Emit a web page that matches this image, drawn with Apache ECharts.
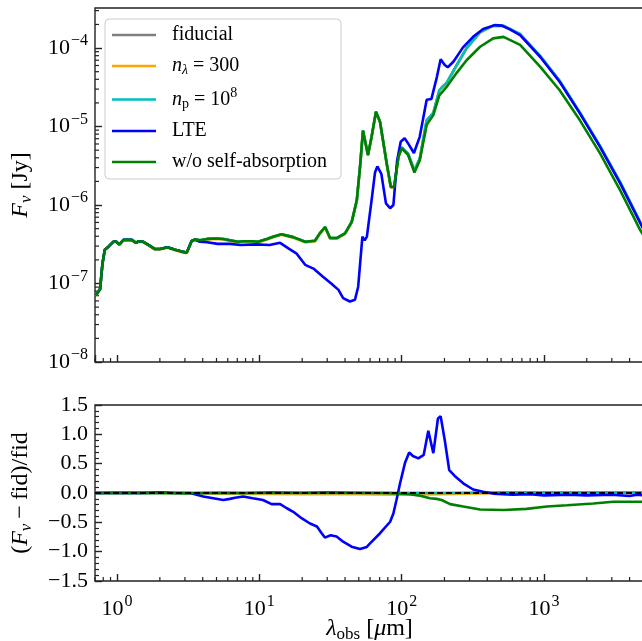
<!DOCTYPE html>
<html><head><meta charset="utf-8">
<script src="https://cdn.jsdelivr.net/npm/echarts@6/dist/echarts.min.js"></script>
<style>html,body{margin:0;padding:0;background:#fff}#c{width:642px;height:641px}</style>
</head><body><div id="c"></div><script>
// ---------- data ----------
const LAM_TOP=[0.71,0.76,0.79,0.82,0.87,0.94,0.98,1.04,1.11,1.27,1.36,1.41,1.53,1.66,1.85,2.0,2.26,2.56,2.85,3.09,3.35,3.53,3.83,4.3,5.0,5.6,6.2,7.1,7.7,9.0,9.8,11.3,12.5,14.3,17.3,21,24.6,26.6,29,31.4,35,40,44.6,48.4,51,53.5,58,61.5,66,70.5,78.5,84,88.6,95,100,111,123,134,150,167,184,196,207,243,286,356,440,520,610,680,940,1290,1790,2480,3430,4750,5100];
const NOSA=[7.1e-8,8.5e-8,1.8e-7,2.7e-7,2.95e-7,3.4e-7,3.45e-7,3.15e-7,3.6e-7,3.6e-7,3.3e-7,3.45e-7,3.4e-7,3.1e-7,2.75e-7,2.75e-7,2.9e-7,2.7e-7,2.55e-7,2.48e-7,3.5e-7,3.65e-7,3.55e-7,3.7e-7,3.75e-7,3.7e-7,3.55e-7,3.4e-7,3.45e-7,3.45e-7,3.4e-7,3.7e-7,3.95e-7,4.25e-7,3.9e-7,3.4e-7,3.5e-7,4.35e-7,5.25e-7,3.8e-7,3.8e-7,4.35e-7,6.1e-7,1.15e-6,3.07e-6,8.9e-6,4.35e-6,7.4e-6,1.54e-5,1.15e-5,3.4e-6,1.7e-6,1.7e-6,4.1e-6,5.3e-6,4.35e-6,2.6e-6,3.7e-6,1.05e-5,1.4e-5,2.5e-5,2.85e-5,3.2e-5,4.8e-5,7.0e-5,1.04e-4,1.33e-4,1.39e-4,1.21e-4,1.1e-4,5.8e-5,2.9e-5,1.2e-5,4.55e-6,1.55e-6,4.8e-7,3.9e-7];
const FID=[7.1e-8,8.5e-8,1.8e-7,2.7e-7,2.95e-7,3.4e-7,3.45e-7,3.15e-7,3.6e-7,3.6e-7,3.3e-7,3.45e-7,3.4e-7,3.1e-7,2.75e-7,2.75e-7,2.9e-7,2.7e-7,2.55e-7,2.48e-7,3.5e-7,3.65e-7,3.55e-7,3.7e-7,3.75e-7,3.7e-7,3.55e-7,3.4e-7,3.45e-7,3.45e-7,3.4e-7,3.7e-7,3.95e-7,4.25e-7,3.9e-7,3.4e-7,3.5e-7,4.35e-7,5.25e-7,3.8e-7,3.8e-7,4.35e-7,6.1e-7,1.15e-6,3.07e-6,8.9e-6,4.35e-6,7.4e-6,1.54e-5,1.15e-5,3.4e-6,1.7e-6,1.72e-6,4.2e-6,5.4e-6,4.5e-6,2.75e-6,3.9e-6,1.2e-5,1.5e-5,2.9e-5,3.3e-5,3.6e-5,6.0e-5,1.0e-4,1.6e-4,1.93e-4,1.92e-4,1.66e-4,1.5e-4,7.9e-5,3.8e-5,1.5e-5,5.6e-6,1.95e-6,6.0e-7,4.7e-7];
const N300=[7.0e-8,8.4e-8,1.78e-7,2.67e-7,2.92e-7,3.37e-7,3.42e-7,3.12e-7,3.56e-7,3.56e-7,3.26e-7,3.41e-7,3.36e-7,3.06e-7,2.71e-7,2.71e-7,2.86e-7,2.66e-7,2.51e-7,2.44e-7,3.45e-7,3.6e-7,3.5e-7,3.65e-7,3.7e-7,3.64e-7,3.49e-7,3.34e-7,3.39e-7,3.39e-7,3.34e-7,3.63e-7,3.88e-7,4.17e-7,3.83e-7,3.34e-7,3.43e-7,4.27e-7,5.15e-7,3.73e-7,3.73e-7,4.27e-7,5.99e-7,1.13e-6,3.01e-6,8.7e-6,4.27e-6,7.25e-6,1.51e-5,1.13e-5,3.33e-6,1.67e-6,1.68e-6,4.1e-6,5.25e-6,4.4e-6,2.68e-6,3.8e-6,1.17e-5,1.47e-5,2.84e-5,3.24e-5,3.53e-5,5.9e-5,9.85e-5,1.58e-4,1.92e-4,1.92e-4,1.66e-4,1.5e-4,7.9e-5,3.8e-5,1.5e-5,5.6e-6,1.95e-6,6.0e-7,4.7e-7];
const NP=[7.1e-8,8.5e-8,1.8e-7,2.7e-7,2.95e-7,3.4e-7,3.45e-7,3.15e-7,3.6e-7,3.6e-7,3.3e-7,3.45e-7,3.4e-7,3.1e-7,2.75e-7,2.75e-7,2.9e-7,2.7e-7,2.55e-7,2.48e-7,3.5e-7,3.65e-7,3.55e-7,3.7e-7,3.75e-7,3.7e-7,3.55e-7,3.4e-7,3.45e-7,3.45e-7,3.4e-7,3.7e-7,3.95e-7,4.25e-7,3.9e-7,3.4e-7,3.5e-7,4.35e-7,5.25e-7,3.8e-7,3.8e-7,4.35e-7,6.1e-7,1.15e-6,3.07e-6,8.9e-6,4.35e-6,7.4e-6,1.54e-5,1.15e-5,3.4e-6,1.7e-6,1.72e-6,4.2e-6,5.4e-6,4.5e-6,2.75e-6,3.9e-6,1.2e-5,1.5e-5,2.9e-5,3.3e-5,3.6e-5,6.0e-5,1.0e-4,1.6e-4,1.93e-4,1.93e-4,1.67e-4,1.51e-4,7.95e-5,3.82e-5,1.51e-5,5.65e-6,1.97e-6,6.05e-7,4.75e-7];
const LAM_LTE=[0.71,0.76,0.79,0.82,0.87,0.94,0.98,1.04,1.11,1.27,1.36,1.41,1.53,1.66,1.85,2.0,2.26,2.56,2.85,3.09,3.35,3.53,3.83,4.3,5.1,6.2,7.4,9.5,11.8,14,16,18.3,21,24,28,32,36,38.8,43.3,47,49.5,53,55,57,61.5,65,67.5,72,77.6,83,87.5,93,98.5,105,111,122,134,150,162,177,188,201,211,231,270,318,374,452,505,577,680,940,1290,1790,2480,3430,4750,5100];
const LTE=[7.1e-8,8.5e-8,1.8e-7,2.7e-7,2.95e-7,3.4e-7,3.45e-7,3.15e-7,3.6e-7,3.6e-7,3.3e-7,3.45e-7,3.4e-7,3.1e-7,2.75e-7,2.75e-7,2.9e-7,2.7e-7,2.55e-7,2.48e-7,3.5e-7,3.6e-7,3.4e-7,3.35e-7,3.2e-7,3.2e-7,3.1e-7,3.15e-7,3.1e-7,3.3e-7,2.8e-7,2.4e-7,1.73e-7,1.55e-7,1.22e-7,1.0e-7,8.3e-8,6.5e-8,5.9e-8,6.2e-8,9.1e-8,3.95e-7,3.55e-7,3.95e-7,1.15e-6,2.6e-6,3.1e-6,2.5e-6,1.05e-6,9.1e-7,1.0e-6,3.7e-6,6.4e-6,7.1e-6,6.1e-6,4.6e-6,7.4e-6,2.2e-5,2.25e-5,4.3e-5,7.2e-5,6.1e-5,5.7e-5,6.7e-5,1.02e-4,1.39e-4,1.75e-4,1.96e-4,1.93e-4,1.73e-4,1.46e-4,7.75e-5,3.73e-5,1.47e-5,5.5e-6,1.9e-6,5.9e-7,4.6e-7];
// relative difference panel
const LAM_R_LTE=[0.7,1.0,1.5,2.0,2.6,3.26,4.04,5.58,6.2,6.75,7.7,9.0,10.6,12.2,14,15.6,17.3,19.8,22.7,25.4,27.5,28.9,31.7,34.9,38.8,44.5,51,56.9,60,70.3,83,87.5,92,97.5,105.5,113,120,131,143,154,167,180,188,201,216,236,271,318,374,440,600,800,1000,1500,2000,3000,4000,4500,5100];
const R_LTE=[0,0.005,0,0.01,0,0,-0.06,-0.12,-0.10,-0.08,-0.06,-0.09,-0.12,-0.19,-0.19,-0.26,-0.32,-0.43,-0.52,-0.57,-0.69,-0.76,-0.72,-0.74,-0.83,-0.915,-0.955,-0.92,-0.86,-0.69,-0.49,-0.35,-0.12,0.165,0.51,0.69,0.63,0.59,0.65,1.06,0.68,1.27,1.31,0.90,0.39,0.29,0.165,0.06,0.02,-0.01,-0.03,-0.02,-0.04,-0.03,-0.04,-0.03,-0.05,-0.03,-0.04];
const LAM_R_NOSA=[0.7,1.5,3,5,8,12,20,30,50,80,100,114,130,142,158,176,191,219,271,356,520,755,1050,1450,2220,3070,4000,5100];
const R_NOSA=[0,0.005,-0.005,0.005,0,0.01,0.005,0.01,0.005,0,-0.01,-0.02,-0.04,-0.06,-0.09,-0.10,-0.12,-0.19,-0.23,-0.28,-0.29,-0.27,-0.23,-0.21,-0.18,-0.15,-0.15,-0.15];
const LAM_R_SMALL=[0.7,2,5,10,20,50,100,200,300,500,1000,5100];
const R_FID=[0,0,0,0,0,0,0,0,0,0,0,0];
const R_N300=[0,0,-0.01,-0.015,-0.02,-0.02,-0.03,-0.02,-0.01,0,0,0];
const R_NP=[0,0,0,0,0,0,0,0,0.005,0.01,0.01,0.01];
const Y_TICKS_R=[-1.5,-1.0,-0.5,0.0,0.5,1.0,1.5];

// ---------- layout / style ----------
const FF='Liberation Serif';
const XMIN=0.7, XMAX=5050, YMIN=1e-8, YMAX=3.24e-4;
const G1={left:95,top:8,width:549,height:354};
const G2={left:95,top:405,width:549,height:176};
const AX='#222';
const C={fid:'#808080',n300:'#ffa500',np:'#00bfbf',lte:'#0000ff',nosa:'#008000'};
const RICH={
  b:{fontFamily:FF,fontSize:22,color:'#000'},
  s:{fontFamily:FF,fontSize:16,color:'#000',padding:[0,0,14,1]},
  i:{fontFamily:FF,fontSize:24,fontStyle:'italic',color:'#000'},
  t:{fontFamily:FF,fontSize:24,color:'#000'},
  m:{fontFamily:FF,fontSize:24,color:'#000',padding:[0,5,0,5]},
  sub:{fontFamily:FF,fontSize:17,fontStyle:'italic',color:'#000',padding:[11,0,0,0]},
  subr:{fontFamily:FF,fontSize:17,color:'#000',padding:[11,0,0,0]},
};
const LRICH={
  i:{fontFamily:FF,fontSize:20,fontStyle:'italic',color:'#000'},
  t:{fontFamily:FF,fontSize:20,color:'#000'},
  sub:{fontFamily:FF,fontSize:14,fontStyle:'italic',color:'#000',padding:[9,0,0,0]},
  subr:{fontFamily:FF,fontSize:14,color:'#000',padding:[9,0,0,0]},
  sup:{fontFamily:FF,fontSize:14,color:'#000',padding:[0,0,12,0]},
};
function powLabel(v){
  const e=Math.log10(v), r=Math.round(e);
  if(Math.abs(e-r)>0.01) return '';
  return '{b|10}{s|'+(r<0?'\u2212':'')+Math.abs(r)+'}';
}
const pairs=(xs,ys)=>xs.map((x,i)=>[x,ys[i]]);
function line(name,color,xs,ys,panel,extra){
  return Object.assign({name,type:'line',xAxisIndex:panel,yAxisIndex:panel,data:pairs(xs,ys),
    showSymbol:false,symbol:'none',lineStyle:{color,width:2.6},itemStyle:{color},
    animation:false,silent:true,z:2},extra||{});
}
const tickStyle={inside:true,length:7,lineStyle:{color:AX,width:1.4}};
const noLine={show:false,onZero:false};
const gridBase={show:true,borderColor:AX,borderWidth:1.4,backgroundColor:'transparent',containLabel:false,outerBoundsMode:'none'};
const option={
  animation:false,
  grid:[Object.assign({},gridBase,G1),Object.assign({},gridBase,G2)],
  xAxis:[
    {type:'log',gridIndex:0,min:XMIN,max:XMAX,logBase:10,axisLine:noLine,axisTick:tickStyle,
     axisLabel:{show:false},splitLine:{show:false}},
    {type:'log',gridIndex:1,min:XMIN,max:XMAX,logBase:10,axisLine:noLine,axisTick:tickStyle,
     axisLabel:{formatter:powLabel,margin:13,rich:RICH,showMinLabel:false,showMaxLabel:false},splitLine:{show:false}}
  ],
  yAxis:[
    {type:'log',gridIndex:0,min:YMIN,max:YMAX,logBase:10,axisLine:noLine,axisTick:tickStyle,
     axisLabel:{formatter:powLabel,margin:7,rich:RICH,showMaxLabel:false},splitLine:{show:false},
     name:'{i|F}{sub|\u03bd}{t| [Jy]}',nameLocation:'middle',nameGap:60,nameRotate:90,
     nameTextStyle:{fontFamily:FF,fontSize:24,color:'#000',rich:RICH}},
    {type:'value',gridIndex:1,min:-1.5,max:1.5,interval:0.5,axisLine:noLine,axisTick:tickStyle,
     minorTick:{show:true,splitNumber:5,length:4,lineStyle:{color:AX,width:1.2}},
     axisLabel:{formatter:v=>{const k=Y_TICKS_R.findIndex(t=>Math.abs(t-v)<1e-9);return k<0?'':Y_TICKS_R[k].toFixed(1).replace('-','\u2212');},
       margin:7,fontFamily:FF,fontSize:22,color:'#000'},
     splitLine:{show:false},minorSplitLine:{show:false},
     name:'{t|(}{i|F}{sub|\u03bd}{m|\u2212}{t|fid)/fid}',nameLocation:'middle',nameGap:60,nameRotate:90,
     nameTextStyle:{fontFamily:FF,fontSize:24,color:'#000',rich:RICH}}
  ],
  legend:{
    left:105,top:19,orient:'vertical',itemWidth:44,itemHeight:2.6,itemGap:9,icon:'rect',
    padding:[5,14,6,7],backgroundColor:'rgba(255,255,255,0.85)',borderColor:'#cccccc',borderWidth:1,borderRadius:4,
    data:['fiducial','n300','np','LTE','w/o self-absorption'],
    selectedMode:false,
    formatter:n=>({'n300':'{i|n}{sub|\u03bb}{t| = 300}','np':'{i|n}{subr|p}{t| = 10}{sup|8}'}[n]||('{t|'+n+'}')),
    textStyle:{fontFamily:FF,fontSize:20,color:'#000',lineHeight:22,padding:[0,0,0,11],rich:LRICH}
  },
  series:[
    line('fiducial',C.fid,LAM_TOP,FID,0),
    line('n300',C.n300,LAM_TOP,N300,0),
    line('np',C.np,LAM_TOP,NP,0),
    line('LTE',C.lte,LAM_LTE,LTE,0),
    line('w/o self-absorption',C.nosa,LAM_TOP,NOSA,0),
    line('fiducial',C.fid,LAM_R_SMALL,R_FID,1),
    line('n300',C.n300,LAM_R_SMALL,R_N300,1),
    line('np',C.np,LAM_R_SMALL,R_NP,1),
    line('LTE',C.lte,LAM_R_LTE,R_LTE,1),
    line('w/o self-absorption',C.nosa,LAM_R_NOSA,R_NOSA,1,{
      markLine:{silent:true,symbol:['none','none'],label:{show:false},animation:false,
        lineStyle:{color:'#000',type:[6,3],width:2},data:[{yAxis:0}]}})
  ]
};
const chart=echarts.init(document.getElementById('c'),null,{renderer:'canvas'});
chart.setOption(option);
// log minor ticks (2..9 x 10^k), placed through the axes' own scales
const gr=[];
function minorX(ai,yb){
  for(let e=-1;e<=3;e++)for(let k=2;k<=9;k++){const v=k*Math.pow(10,e);if(v<XMIN||v>XMAX)continue;
    const px=chart.convertToPixel({xAxisIndex:ai},v);
    gr.push({type:'line',silent:true,shape:{x1:px,y1:yb,x2:px,y2:yb-4},style:{stroke:AX,lineWidth:1.2}});}
}
function minorY(ai,xl){
  for(let e=-8;e<=-4;e++)for(let k=2;k<=9;k++){const v=k*Math.pow(10,e);if(v<YMIN||v>YMAX)continue;
    const py=chart.convertToPixel({yAxisIndex:ai},v);
    gr.push({type:'line',silent:true,shape:{x1:xl,y1:py,x2:xl+4,y2:py},style:{stroke:AX,lineWidth:1.2}});}
}
minorX(0,G1.top+G1.height);minorX(1,G2.top+G2.height);minorY(0,G1.left);
// x-axis title
gr.push({type:'text',silent:true,x:G2.left+G2.width/2,y:629,
  style:{text:'{i|\u03bb}{subr|obs}{t| [}{i|\u03bc}{t|m]}',rich:RICH,align:'center',verticalAlign:'middle',
    fill:'#000',fontFamily:FF,fontSize:24}});
chart.setOption({graphic:gr});
</script></body></html>
